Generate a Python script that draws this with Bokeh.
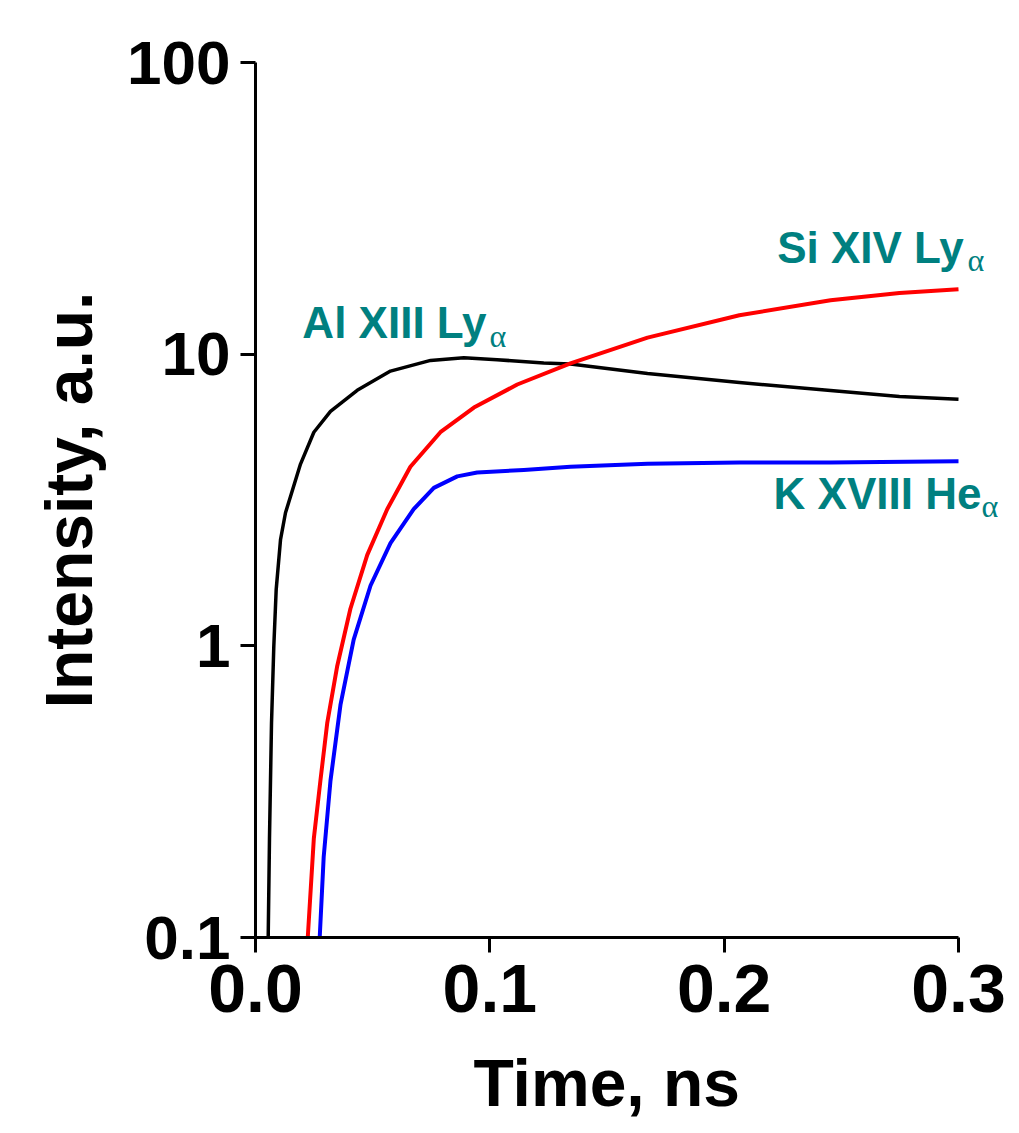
from bokeh.plotting import figure
from bokeh.models import Range1d, FixedTicker, NumeralTickFormatter, Label, Title
from bokeh.embed import file_html
from bokeh.resources import INLINE

# Al XIII Ly-alpha (black)
time_al = [0.00542, 0.00597, 0.00683, 0.00781, 0.00883, 0.01067, 0.0128, 0.0152,
           0.0192, 0.0249, 0.032, 0.0434, 0.0576, 0.0747, 0.0889, 0.1031, 0.123,
           0.1344, 0.1673, 0.2065, 0.2454, 0.2748, 0.300]
int_al = [0.1, 0.219, 0.543, 0.995, 1.56, 2.31, 2.86, 3.3,
          4.2, 5.40, 6.37, 7.52, 8.75, 9.52, 9.72, 9.57, 9.33,
          9.26, 8.59, 8.0, 7.5, 7.16, 7.0]

# Si XIV Ly-alpha (red)
time_si = [0.0223, 0.0249, 0.0277, 0.0306, 0.0349, 0.0405, 0.0477, 0.0562, 0.0661,
           0.0789, 0.0932, 0.1117, 0.1344, 0.1673, 0.2065, 0.2454, 0.2748, 0.300]
int_si = [0.1, 0.219, 0.345, 0.543, 0.855, 1.34, 2.05, 2.94, 4.11,
          5.40, 6.56, 7.87, 9.3, 11.4, 13.6, 15.3, 16.2, 16.7]

# K XVIII He-alpha (blue)
time_k = [0.0274, 0.0291, 0.032, 0.0363, 0.0419, 0.0491, 0.0576, 0.0675, 0.0761,
          0.0861, 0.0946, 0.1145, 0.1344, 0.1673, 0.2065, 0.2454, 0.300]
int_k = [0.1, 0.189, 0.345, 0.63, 1.05, 1.61, 2.25, 2.94, 3.48,
         3.81, 3.93, 4.01, 4.11, 4.21, 4.25, 4.25, 4.29]

x_ticks = [0.0, 0.1, 0.2, 0.3]
y_ticks = [0.1, 1, 10, 100]
y_tick_labels = {0.1: "0.1", 1: "1", 10: "10", 100: "100"}

FONT = "Liberation Sans"
TEAL = "#008080"

X_END = 0.3            # end of the drawn x axis
FRAME_W_AXIS = 703     # pixels between 0 and 0.3
FRAME_W = 745          # frame extends right so the labels are not clipped

p = figure(frame_width=FRAME_W, frame_height=875,
           x_range=Range1d(0, X_END * FRAME_W / FRAME_W_AXIS), y_range=Range1d(0.1, 100),
           y_axis_type="log", output_backend="svg", toolbar_location=None,
           min_border_left=255, min_border_top=62, min_border_bottom=150,
           min_border_right=8)

p.outline_line_color = None
p.grid.visible = False
p.background_fill_color = "white"
p.border_fill_color = "white"

p.line(time_al, int_al, line_color="black", line_width=3.5, line_join="round")
p.line(time_si, int_si, line_color="#ff0000", line_width=4, line_join="round")
p.line(time_k, int_k, line_color="#0000ff", line_width=4, line_join="round")

for ax in (p.xaxis[0], p.yaxis[0]):
    ax.axis_line_width = 3
    ax.major_tick_line_width = 3
    ax.major_tick_out = 15
    ax.major_tick_in = 0
    ax.minor_tick_out = 0
    ax.minor_tick_in = 0
    ax.major_label_text_font = FONT
    ax.major_label_text_font_style = "bold"
    ax.major_label_text_color = "black"
    ax.axis_label_text_font = FONT
    ax.axis_label_text_font_style = "bold"
    ax.axis_label_text_color = "black"
    ax.axis_label_text_font_size = "66px"

p.xaxis.bounds = (0, X_END)
p.xaxis.ticker = FixedTicker(ticks=x_ticks)
p.xaxis.formatter = NumeralTickFormatter(format="0.0")
p.xaxis.major_label_text_font_size = "68px"
p.xaxis.major_label_standoff = 12

# x-axis title placed under the 0 - 0.3 span (the frame is wider than the axis)
x_title = Title(text="Time, ns", align="left", offset=218,
                text_font=FONT, text_font_style="bold", text_font_size="66px",
                text_color="black", standoff=58)
p.add_layout(x_title, "below")

p.yaxis.ticker = FixedTicker(ticks=y_ticks)
p.yaxis.major_label_overrides = y_tick_labels
p.yaxis.major_label_text_font_size = "62px"
p.yaxis.major_label_standoff = 10
p.yaxis.axis_label = "Intensity, a.u."
p.yaxis.axis_label_standoff = 18

def add_label(x, y, text, size, font=FONT, style="bold"):
    p.add_layout(Label(x=x, y=y, text=text, text_font=font, text_font_style=style,
                       text_font_size=size, text_color=TEAL,
                       text_align="left", text_baseline="alphabetic"))

add_label(0.0200, 12.8, "Al XIII Ly", "44px")
add_label(0.0999, 11.5, "\u03b1", "32px", "Liberation Serif", "normal")
add_label(0.2226, 23.3, "Si XIV Ly", "44px")
add_label(0.3038, 21.1, "\u03b1", "32px", "Liberation Serif", "normal")
add_label(0.2211, 3.33, "K XVIII He", "44px")
add_label(0.3098, 3.01, "\u03b1", "32px", "Liberation Serif", "normal")

open("out.html", "w").write(file_html(p, INLINE))
